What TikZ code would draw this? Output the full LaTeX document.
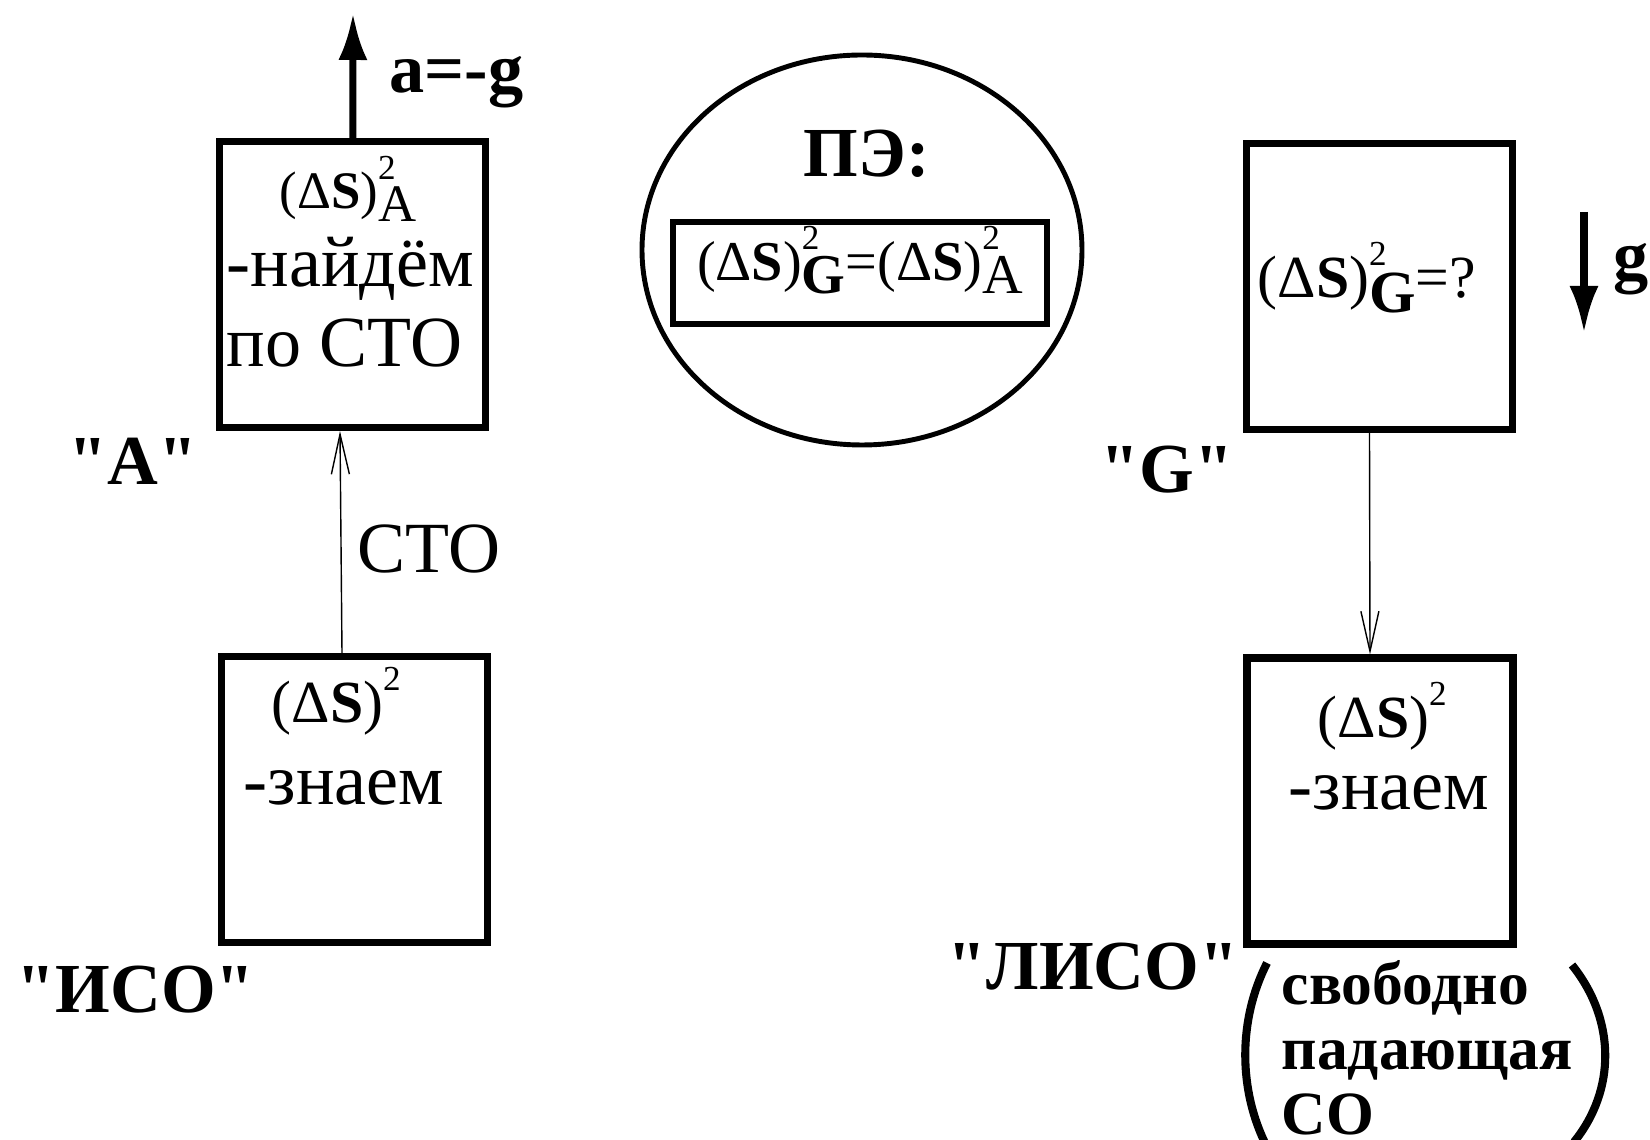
\documentclass[tikz,border=0pt]{standalone}
\usepackage{fontspec}
\setmainfont{Liberation Serif}
\usepackage{tikz}
\usetikzlibrary{arrows.meta,shapes.geometric}

\newcommand{\dS}{(Δ\textbf{S})}
\newcommand{\sqr}{\raisebox{0.55em}{\fontsize{10}{10}\selectfont 2}}
\newcommand{\sqsub}[1]{\rlap{\sqr}\raisebox{-0.24em}{#1}}
\newcommand{\dq}{\XeTeXglyph\XeTeXcharglyph"22\relax}

\begin{document}
\begin{tikzpicture}[x=1cm,y=1cm,
  frameBox/.style={draw,line width=2pt,minimum width=2.66cm,minimum height=2.86cm,inner sep=0},
  thinArrow/.style={line width=0.4pt,-{Straight Barb[length=4mm,width=1.8mm]}},
  bigArrow/.style={line width=2pt,-{Latex[length=4.7mm,width=2.9mm]}},
  bracket/.style={line width=2.3pt},
  plain/.style={inner sep=0,anchor=base west,font=\fontsize{20.5}{24}\selectfont},
  tag/.style={inner sep=0,anchor=base west,font=\fontsize{20}{24}\selectfont\bfseries},
  formula/.style={inner sep=0,anchor=base west,font=\fontsize{#1}{18}\selectfont},
  formula/.default=17]
\useasboundingbox (0,0) rectangle (16.5,11.4);

% frames of reference
\node[frameBox] (boxA) at (3.525,8.555) {};
\node[frameBox] (iso) at (3.545,3.405) {};
\node[frameBox] (boxG) at (13.795,8.535) {};
\node[frameBox] (liso) at (13.80,3.39) {};

% equivalence principle
\node[draw,ellipse,line width=1.4pt,minimum width=4.4cm,minimum height=3.9cm,inner sep=0] (pe) at (8.62,8.90) {};
\node[tag] (peHead) at (8.03,9.63) {ПЭ:};
\node[draw,line width=1.7pt,minimum width=3.74cm,minimum height=1.02cm,inner sep=0,
  text height=12pt,text depth=8pt,font=\fontsize{16}{18}\selectfont] (law) at (8.60,8.67)
  {\dS\sqsub{\textbf{G}}=\dS\sqsub{A}};

% left column
\node[tag] (accel) at (3.89,10.47) {a=-g};
\node[formula=15] (dsA) at (2.79,9.31) {\dS\sqsub{A}};
\node[plain] (findA) at (2.26,8.53) {-найдём};
\node[plain] (bySTR) at (2.26,7.73) {по СТО};
\node[tag] (nameA) at (0.68,6.55) {\dq A\dq};
\node[plain] (str) at (3.57,5.67) {СТО};
\node[formula] (dsI) at (2.71,4.17) {\dS\sqr};
\node[plain] (knowI) at (2.43,3.35) {-знаем};
\node[tag] (nameI) at (0.16,1.27) {\dq ИСО\dq};

% right column
\node[formula] (dsG) at (12.57,8.42) {\dS\sqsub{\textbf{G}}=?};
\node[tag] (gLabel) at (16.13,8.60) {g};
\node[tag] (nameG) at (11.0,6.47) {\dq G\dq};
\node[formula] (dsL) at (13.17,4.02) {\dS\sqr};
\node[plain] (knowL) at (12.88,3.30) {-знаем};
\node[tag] (nameL) at (9.47,1.50) {\dq ЛИСО\dq};
\node[tag,font=\fontsize{17.5}{18.6}\selectfont\bfseries,align=left] (fall) at (12.81,0.05) {свободно\\падающая\\СО};
\draw[bracket] (12.67,1.77) .. controls (12.38,1.2) and (12.38,0.5) .. (12.67,-0.07);
\draw[bracket] (15.72,1.75) .. controls (16.16,1.2) and (16.16,0.5) .. (15.74,-0.02);

% arrows
\coordinate (aTip) at (3.53,11.27);
\coordinate (gTop) at (15.84,9.28);
\coordinate (gBot) at (15.84,8.07);
\draw[bigArrow] (boxA) -- (aTip);
\draw[bigArrow] (gTop) -- (gBot);
\draw[thinArrow] ([xshift=-1.25mm]iso.north) -- ([xshift=-1.25mm]boxA.south);
\draw[thinArrow] ([xshift=-1mm]boxG.south) -- ([xshift=-1mm]liso.north);
\end{tikzpicture}
\end{document}
